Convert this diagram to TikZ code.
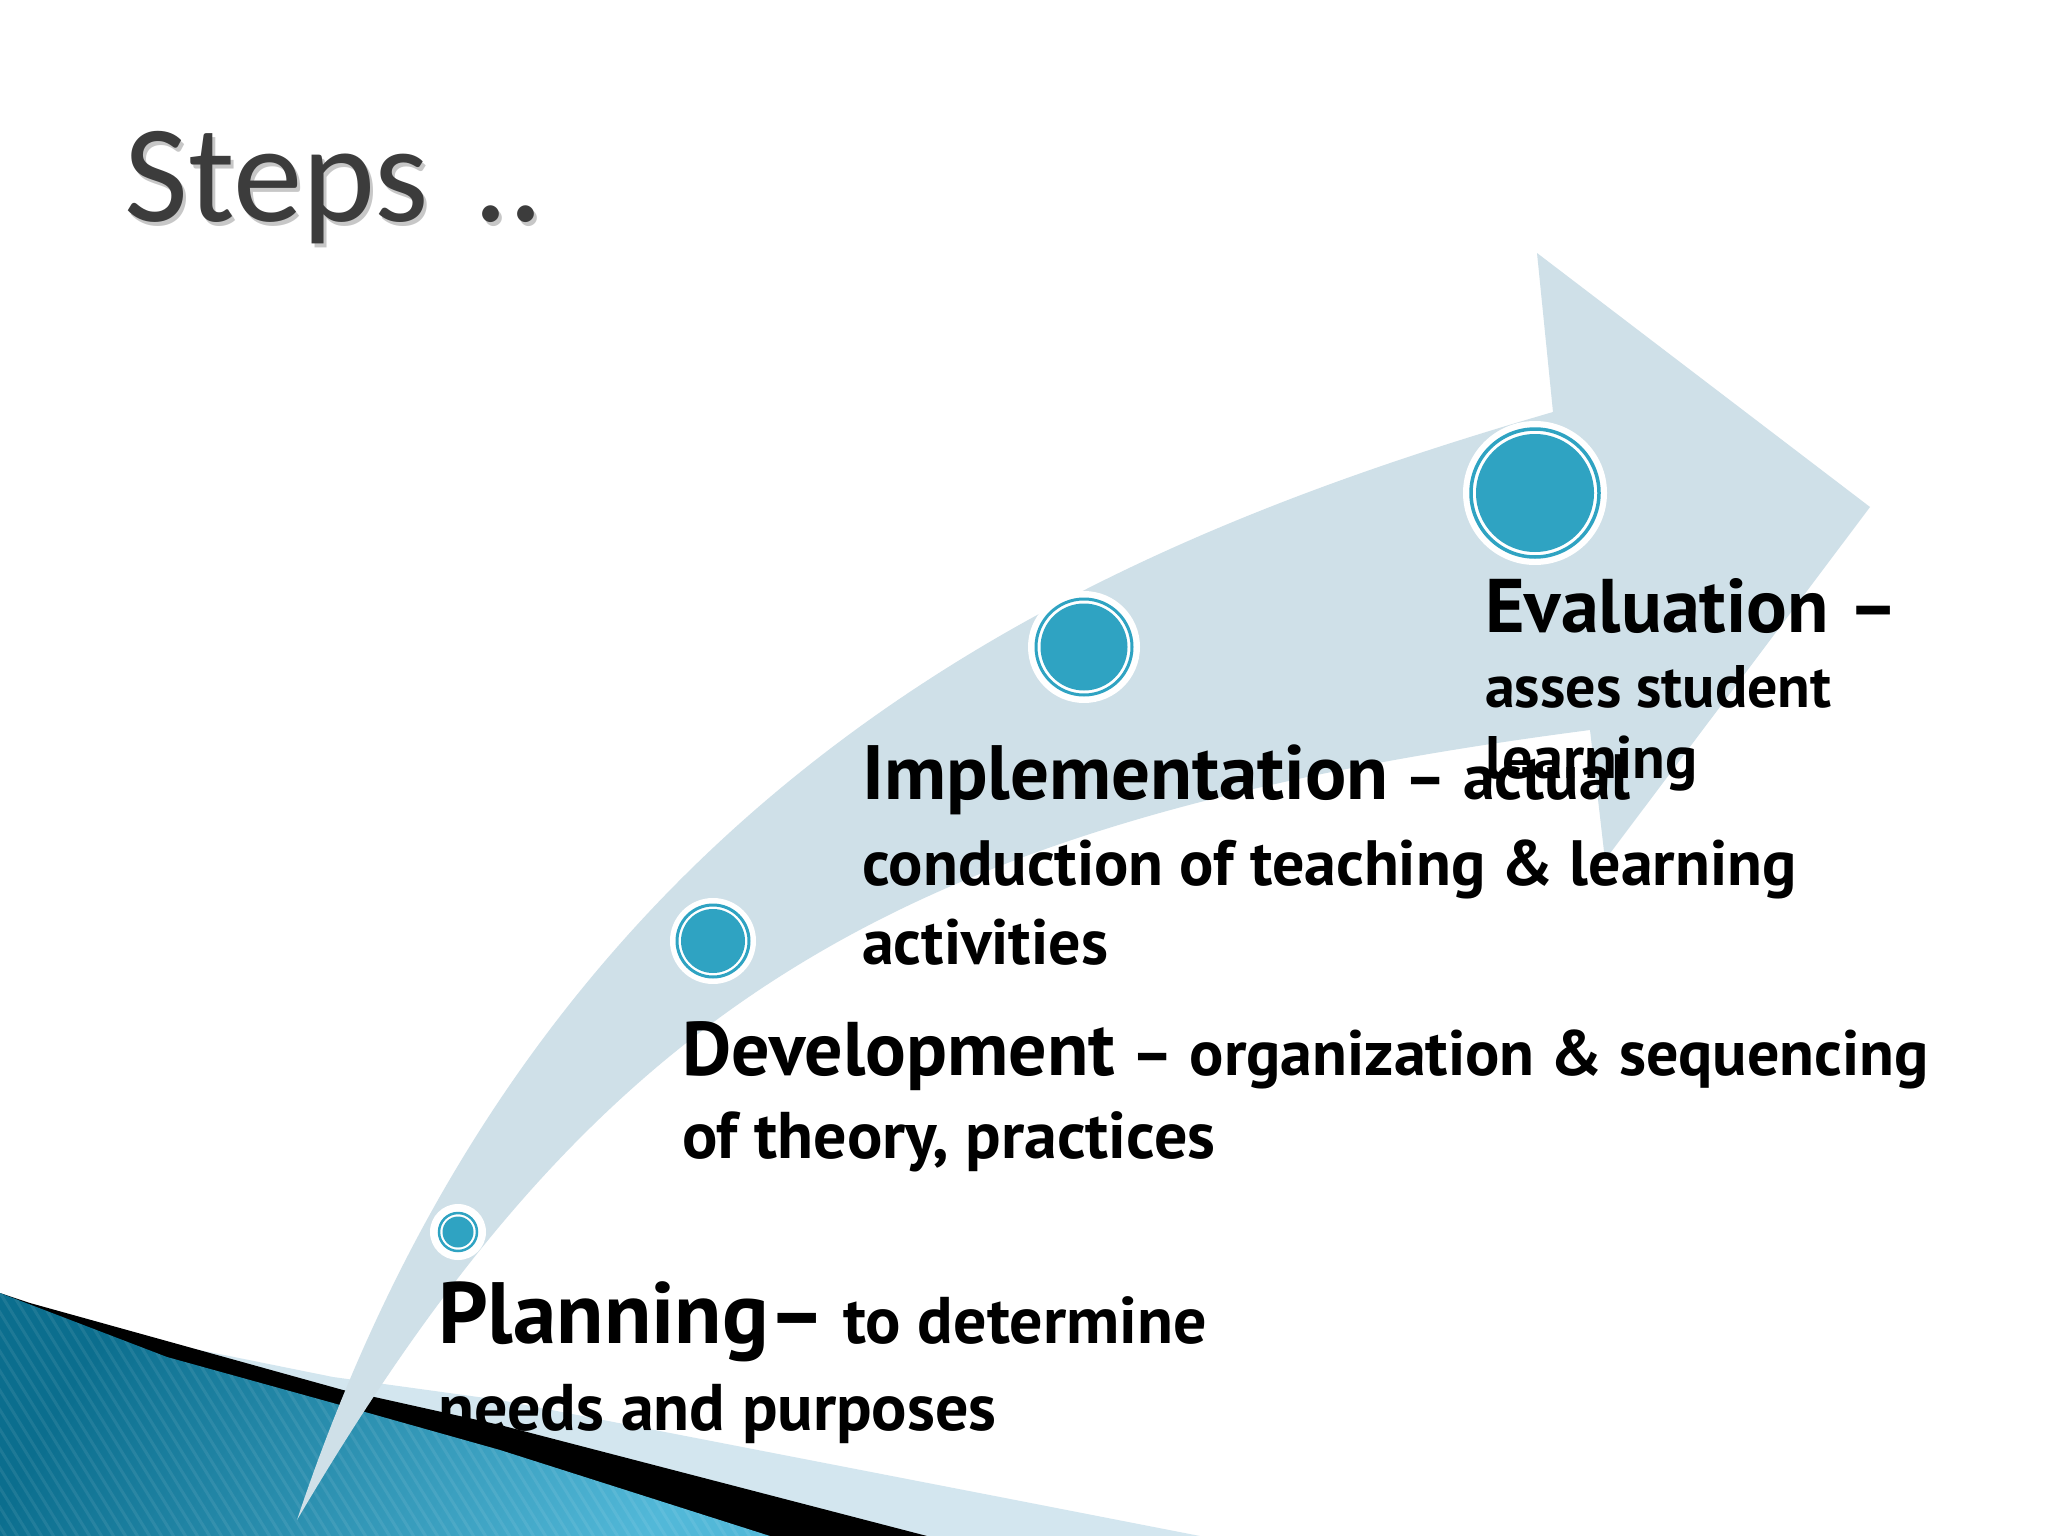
\documentclass[tikz,border=0pt]{standalone}
\usepackage{fontspec}
\setmainfont{PT Sans}
\newfontfamily\titlefont{Carlito}
\definecolor{arrowfill}{HTML}{CFE0E8}
\definecolor{dotteal}{HTML}{2FA3C2}
\definecolor{tealdark}{HTML}{0B6E8E}
\definecolor{teallight}{HTML}{52B8D8}
\definecolor{stripeblue}{HTML}{D3E6EF}
\definecolor{titlegray}{HTML}{3C3C3C}
\newcommand\headsize{\fontsize{76}{82}\selectfont}
\newcommand\bodysize{\fontsize{64}{70}\selectfont}
\newcommand\evalsize{\fontsize{60}{66}\selectfont}
\newcommand\plansize{\fontsize{66}{72}\selectfont}

\begin{document}
\begin{tikzpicture}[x=1pt,y=-1pt,
    stepdot/.style={circle, fill=white, inner sep=0pt},
    steptext/.style={anchor=base west, inner sep=0pt, font=\bfseries\bodysize}]

    % page, in pixels of the slide
    \fill[white] (0,0) rectangle (2048,1536);
    \useasboundingbox (0,0) rectangle (2048,1536);

    % Title with a soft shadow
    \node[anchor=base west, inner sep=0pt, text=black!22, font=\titlefont\fontsize{139}{144}\selectfont]
        (titleshadow) at (127,225) {Steps\hspace{13pt} ..};
    \node[anchor=base west, inner sep=0pt, text=titlegray, font=\titlefont\fontsize{139}{144}\selectfont]
        (title) at (124,221) {Steps\hspace{13pt} ..};

    % Swoosh in the lower left corner
    \fill[stripeblue] (150,1340) -- (333,1377) -- (500,1400) -- (1000,1497) -- (1200,1536)
        -- (0,1536) -- cycle;
    \fill[black] (0,1293) -- (30,1303) -- (343,1390) -- (500,1425) -- (927,1536) -- (0,1536) -- cycle;
    \shade[left color=tealdark, right color=teallight, shading angle=60]
        (0,1293) -- (167,1357) -- (333,1403) -- (500,1450) -- (770,1536) -- (0,1536) -- cycle;
    \begin{scope}
        \clip (0,1293) -- (167,1357) -- (333,1403) -- (500,1450) -- (770,1536) -- (0,1536) -- cycle;
        \foreach \s in {-800,-788,...,800}
            \draw[white, opacity=0.08, line width=3] (\s,1280) -- (\s+160,1540);
    \end{scope}

    % The curved arrow
    \fill[arrowfill] (297,1520) .. controls (547,770) and (1103,543) .. (1553,412)
        -- (1537,253) -- (1870,507) -- (1605,860) -- (1590,730)
        .. controls (890,821) and (597,1010) .. (297,1520) -- cycle;

    % Step dots
    \node[stepdot, minimum size=56] (dotplan) at (458,1232) {};
    \draw[dotteal, line width=2.5] (dotplan.center) circle (19);
    \fill[dotteal] (dotplan.center) circle (15.5);

    \node[stepdot, minimum size=86] (dotdev) at (713,941) {};
    \draw[dotteal, line width=3] (dotdev.center) circle (36);
    \fill[dotteal] (dotdev.center) circle (32);

    \node[stepdot, minimum size=112] (dotimp) at (1084,647) {};
    \draw[dotteal, line width=3] (dotimp.center) circle (48);
    \fill[dotteal] (dotimp.center) circle (43.5);

    \node[stepdot, minimum size=144] (doteval) at (1535,493) {};
    \draw[dotteal, line width=3.5] (doteval.center) circle (64);
    \fill[dotteal] (doteval.center) circle (59);

    % Step texts
    \node[steptext, font=\bfseries\plansize] (plan1) at (438,1343) {{\fontsize{87}{92}\selectfont Planning–} to determine};
    \node[steptext, font=\bfseries\plansize] (plan2) at (438,1430) {needs and purposes};

    \node[steptext] (dev1) at (682,1075) {{\headsize Development} – organization \& sequencing};
    \node[steptext, font=\bfseries\plansize] (dev2) at (682,1158) {of theory, practices};

    \node[steptext] (imp1) at (862,799) {{\fontsize{77}{82}\selectfont Implementation} – actual};
    \node[steptext] (imp2) at (862,885) {conduction of teaching \& learning};
    \node[steptext] (imp3) at (862,964) {activities};

    \node[steptext] (eval1) at (1485,632) {{\headsize Evaluation –}};
    \node[steptext, font=\bfseries\evalsize] (eval2) at (1485,707) {asses student};
    \node[steptext, font=\bfseries\evalsize] (eval3) at (1485,778) {learning};

\end{tikzpicture}
\end{document}
